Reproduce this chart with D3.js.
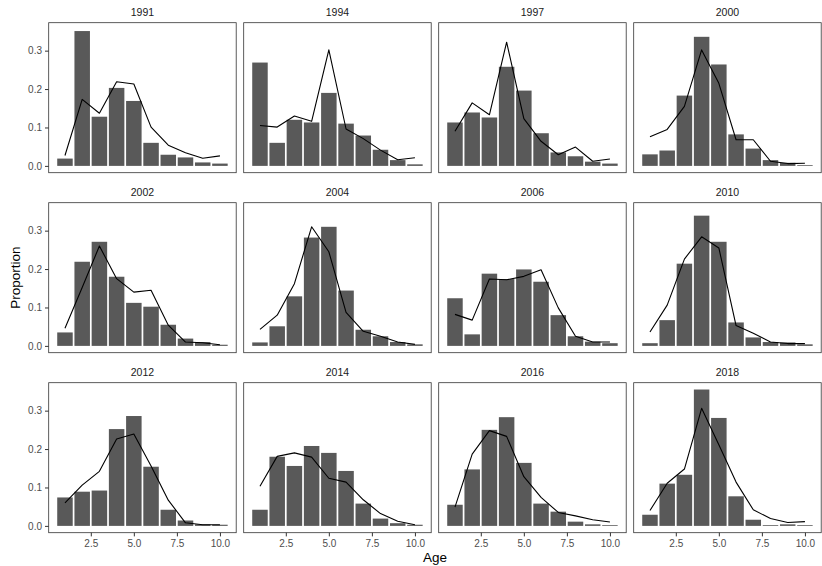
<!DOCTYPE html>
<html>
<head>
<meta charset="utf-8">
<script src="https://cdn.jsdelivr.net/npm/d3@7"></script>
<style>
  html, body { margin: 0; padding: 0; background: #fff; }
  svg { display: block; font-family: "Liberation Sans", Arial, Helvetica, sans-serif; }
</style>
</head>
<body>
<svg id="chart" width="822" height="566"></svg>
<script>
// ---- Data ----
const years = ["1991", "1994", "1997", "2000", "2002", "2004", "2006", "2010", "2012", "2014", "2016", "2018"];
const ages = [1, 2, 3, 4, 5, 6, 7, 8, 9, 10];
const yTicks = [0.0, 0.1, 0.2, 0.3];
const xTicks = [2.5, 5.0, 7.5, 10.0];

// observed proportions (bars)
const obs1991 = [0.019, 0.351, 0.128, 0.203, 0.169, 0.060, 0.029, 0.022, 0.009, 0.006];
const obs1994 = [0.269, 0.060, 0.120, 0.113, 0.190, 0.110, 0.079, 0.042, 0.015, 0.004];
const obs1997 = [0.113, 0.139, 0.126, 0.258, 0.196, 0.085, 0.035, 0.025, 0.011, 0.006];
const obs2000 = [0.030, 0.040, 0.183, 0.336, 0.264, 0.082, 0.045, 0.015, 0.008, 0.002];
const obs2002 = [0.035, 0.219, 0.271, 0.180, 0.112, 0.102, 0.055, 0.019, 0.010, 0.003];
const obs2004 = [0.009, 0.051, 0.129, 0.282, 0.310, 0.144, 0.042, 0.025, 0.010, 0.004];
const obs2006 = [0.124, 0.030, 0.188, 0.174, 0.199, 0.167, 0.080, 0.025, 0.011, 0.007];
const obs2010 = [0.007, 0.067, 0.214, 0.339, 0.271, 0.061, 0.022, 0.010, 0.009, 0.004];
const obs2012 = [0.074, 0.089, 0.092, 0.252, 0.286, 0.154, 0.042, 0.014, 0.004, 0.003];
const obs2014 = [0.042, 0.180, 0.156, 0.208, 0.190, 0.143, 0.058, 0.019, 0.007, 0.003];
const obs2016 = [0.055, 0.147, 0.250, 0.283, 0.164, 0.058, 0.037, 0.011, 0.004, 0.002];
const obs2018 = [0.029, 0.110, 0.133, 0.355, 0.281, 0.077, 0.016, 0.002, 0.004, 0.002];

// predicted proportions (line)
const fit1991 = [0.027, 0.173, 0.137, 0.219, 0.213, 0.101, 0.054, 0.034, 0.020, 0.026];
const fit1994 = [0.105, 0.101, 0.130, 0.116, 0.302, 0.096, 0.071, 0.041, 0.016, 0.021];
const fit1997 = [0.090, 0.164, 0.133, 0.322, 0.123, 0.064, 0.029, 0.049, 0.012, 0.018];
const fit2000 = [0.076, 0.095, 0.155, 0.302, 0.215, 0.068, 0.068, 0.012, 0.006, 0.007];
const fit2002 = [0.046, 0.152, 0.260, 0.175, 0.140, 0.145, 0.054, 0.010, 0.008, 0.003];
const fit2004 = [0.043, 0.080, 0.162, 0.310, 0.245, 0.087, 0.038, 0.025, 0.010, 0.004];
const fit2006 = [0.082, 0.067, 0.174, 0.172, 0.181, 0.198, 0.099, 0.025, 0.010, 0.010];
const fit2010 = [0.036, 0.106, 0.226, 0.284, 0.255, 0.053, 0.033, 0.010, 0.006, 0.006];
const fit2012 = [0.060, 0.106, 0.142, 0.226, 0.239, 0.156, 0.067, 0.008, 0.003, 0.003];
const fit2014 = [0.103, 0.181, 0.190, 0.179, 0.124, 0.114, 0.068, 0.032, 0.012, 0.003];
const fit2016 = [0.049, 0.187, 0.248, 0.233, 0.128, 0.074, 0.035, 0.026, 0.016, 0.010];
const fit2018 = [0.040, 0.111, 0.148, 0.306, 0.211, 0.114, 0.042, 0.019, 0.009, 0.011];

const observed = [obs1991, obs1994, obs1997, obs2000, obs2002, obs2004, obs2006, obs2010, obs2012, obs2014, obs2016, obs2018];
const predicted = [fit1991, fit1994, fit1997, fit2000, fit2002, fit2004, fit2006, fit2010, fit2012, fit2014, fit2016, fit2018];

// ---- Layout ----
const svg = d3.select("#chart");
const nCol = 4, nRow = 3;
const panelW = 187.5, panelH = 150;
const colStep = 195, rowStep = 180;
const left0 = 48.7, top0 = 22.7;

const barWidth = 0.9;
const xLo = 1 - barWidth / 2, xHi = 10 + barWidth / 2;
const xPad = (xHi - xLo) * 0.05;
const x = d3.scaleLinear().domain([xLo - xPad, xHi + xPad]).range([0, panelW]);

const yMax = d3.max(observed.flat().concat(predicted.flat()));
const y = d3.scaleLinear().domain([-0.05 * yMax, 1.05 * yMax]).range([panelH, 0]);

const textGrey = "#4D4D4D";
const tickCol = "#333333";

years.forEach((yr, i) => {
  const col = i % nCol, row = Math.floor(i / nCol);
  const g = svg.append("g")
    .attr("transform", `translate(${left0 + col * colStep},${top0 + row * rowStep})`);

  // strip label
  g.append("text")
    .attr("x", panelW / 2).attr("y", -6.4)
    .attr("text-anchor", "middle")
    .attr("font-size", 10.5)
    .attr("fill", "#1A1A1A")
    .text(yr);

  // bars
  const bw = x(barWidth) - x(0);
  g.selectAll("rect.bar")
    .data(ages.map((a, k) => ({ a, v: observed[i][k] })))
    .enter().append("rect")
    .attr("class", "bar")
    .attr("x", d => x(d.a) - bw / 2)
    .attr("width", bw)
    .attr("y", d => y(Math.max(d.v, 0)))
    .attr("height", d => Math.abs(y(0) - y(d.v)))
    .attr("fill", "#595959");

  // line
  const line = d3.line().x(d => x(d.a)).y(d => y(d.v));
  g.append("path")
    .datum(ages.map((a, k) => ({ a, v: predicted[i][k] })))
    .attr("d", line)
    .attr("fill", "none")
    .attr("stroke", "#000")
    .attr("stroke-width", 1.1)
    .attr("stroke-linejoin", "round");

  // panel border
  g.append("rect")
    .attr("x", 0).attr("y", 0)
    .attr("width", panelW).attr("height", panelH)
    .attr("fill", "none")
    .attr("stroke", tickCol)
    .attr("stroke-width", 0.8);

  // y axis on first column
  if (col === 0) {
    const ya = d3.axisLeft(y).tickValues(yTicks).tickFormat(d3.format(".1f")).tickSize(3.7).tickPadding(3);
    const ag = g.append("g").call(ya);
    ag.select(".domain").remove();
    ag.selectAll("line").attr("stroke", tickCol);
    ag.selectAll("text").attr("fill", textGrey).attr("font-size", 10).attr("font-family", null);
  }
  // x axis on last row
  if (row === nRow - 1) {
    const xa = d3.axisBottom(x).tickValues(xTicks).tickFormat(d3.format(".1f")).tickSize(3.7).tickPadding(4);
    const ag = g.append("g").attr("transform", `translate(0,${panelH})`).call(xa);
    ag.select(".domain").remove();
    ag.selectAll("line").attr("stroke", tickCol);
    ag.selectAll("text").attr("fill", textGrey).attr("font-size", 10).attr("font-family", null);
  }
});

// axis titles
const plotLeft = left0, plotRight = left0 + (nCol - 1) * colStep + panelW;
const plotTop = top0, plotBottom = top0 + (nRow - 1) * rowStep + panelH;
svg.append("text")
  .attr("transform", `translate(19.5,${(plotTop + plotBottom) / 2}) rotate(-90)`)
  .attr("text-anchor", "middle")
  .attr("font-size", 13.5)
  .attr("fill", "#000")
  .text("Proportion");
svg.append("text")
  .attr("x", (plotLeft + plotRight) / 2).attr("y", 562)
  .attr("text-anchor", "middle")
  .attr("font-size", 13.5)
  .attr("fill", "#000")
  .text("Age");
</script>
</body>
</html>
